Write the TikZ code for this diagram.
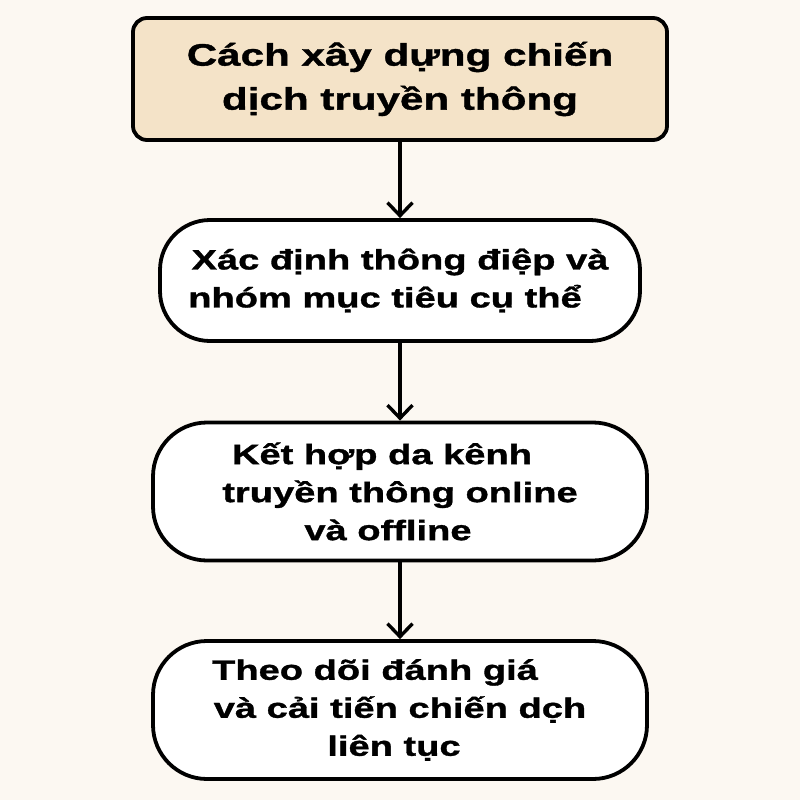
\documentclass[tikz,border=0pt]{standalone}
\usepackage{fontspec}
\setmainfont{Liberation Sans}[FakeStretch=1.36, FakeBold=1.2]
\usetikzlibrary{arrows.meta}
\definecolor{mbeige}{rgb}{0.957, 0.890, 0.784}
\definecolor{mcream}{rgb}{0.988, 0.973, 0.949}
\tikzset{pill/.style = {draw, line width = 3.8pt, fill = white, rounded corners = 54pt, align = center, inner sep = 0, minimum width = 494pt, minimum height = 138pt, font = \bfseries\fontsize{28}{38}\selectfont}}
\tikzset{title/.style = {pill, fill = mbeige, rounded corners = 14pt, minimum width = 534pt, minimum height = 122pt, font = \bfseries\fontsize{31}{44}\selectfont}}
\tikzset{arr/.style = {line width = 3.4pt, -{Straight Barb[length = 13pt, width = 25pt, line width = 3.4pt]}}}

\begin{document}
\begin{tikzpicture}[x = 1pt, y = -1pt]
    \fill [mcream] (0, 0) rectangle (800, 800);

    \node [title] (0) at (400, 79) {Cách xây dựng chiến\\dịch truyền thông};
    \node [pill, minimum width = 480pt, minimum height = 121pt, rounded corners = 50pt] (1) at (400, 280.5) {Xác định thông điệp và\\nhóm mục tiêu cụ thể\hspace*{30pt}};
    \node [pill] (2) at (400, 491.5) {Kết hợp da kênh\hspace*{36pt}\\truyền thông online\hspace*{16pt}\\và offline\hspace*{24pt}};
    \node [pill] (3) at (400, 710) {Theo dõi đánh giá\hspace*{50pt}\\và cải tiến chiến dc̣h\\liên tục\hspace*{12pt}};

    \draw [arr] (0) -- (1);
    \draw [arr] (1) -- (2);
    \draw [arr] (2) -- (3);
  \end{tikzpicture}
\end{document}
